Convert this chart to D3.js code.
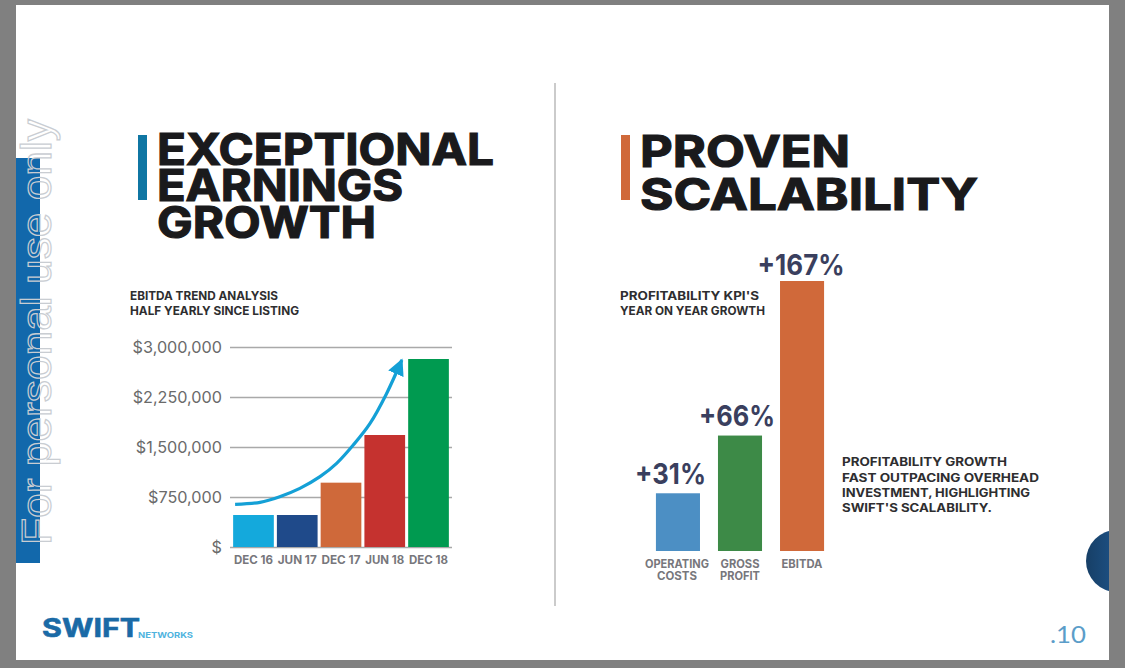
<!DOCTYPE html>
<html>
<head>
<meta charset="utf-8">
<script src="https://cdn.jsdelivr.net/npm/d3@7"></script>
<style>
    html, body { margin: 0; padding: 0; background: #808080; overflow: hidden; }
    svg { display: block; }
    text { font-family: Inter, "DejaVu Sans", sans-serif; }
    .title { font-size: 44px; font-weight: bold; fill: #1a1a1c; stroke: #1a1a1c; stroke-width: 1.2px; }
    .note { font-size: 11.5px; font-weight: bold; fill: #2e2e30; }
    .axis text { font-size: 16.2px; fill: #6a6a6a; }
    .axis line { stroke: #a9a9a9; stroke-width: 1.6px; }
    .axis .domain { display: none; }
    .xlabel { font-size: 11.5px; font-weight: bold; fill: #77777c; }
    .pct { font-size: 29px; font-weight: bold; fill: #3a3f5e; }
</style>
</head>
<body>
<div id="chart"></div>
<script>
const width = 1125;
const height = 668;

// EBITDA bars
const periods = ["DEC 16", "JUN 17", "DEC 17", "JUN 18", "DEC 18"];
const ebitda = [480000, 480000, 965000, 1680000, 2820000];
const ebitdaColors = ["#14a9dc", "#1f4a8a", "#cf693a", "#c5322f", "#009a50"];
const yTicks = [0, 750000, 1500000, 2250000, 3000000];
const yTickLabels = ["$", "$750,000", "$1,500,000", "$2,250,000", "$3,000,000"];

// trend arrow, as bar position / dollars
const trendBar = [-0.42, 0.15, 0.6, 1.06, 1.52, 1.9, 2.28, 2.66, 3.04, 3.39];
const trendValue = [640000, 670000, 755000, 880000, 1055000, 1255000, 1530000, 1850000, 2300000, 2805000];

// KPI bars (bar heights as drawn, they are not to scale with the labels)
const kpis = [["OPERATING", "COSTS"], ["GROSS", "PROFIT"], ["EBITDA"]];
const kpiHeights = [31, 62, 145];
const kpiLabels = ["+31%", "+66%", "+167%"];
const kpiColors = ["#4c8fc4", "#3d8a47", "#d0693a"];

const svg = d3.select("#chart")
    .append("svg")
    .attr("width", width)
    .attr("height", height);

const defs = svg.append("defs");

const grad = defs.append("linearGradient").attr("id", "dotGrad");
grad.append("stop").attr("offset", "0%").attr("stop-color", "#173f66");
grad.append("stop").attr("offset", "100%").attr("stop-color", "#2265a8");

defs.append("clipPath").attr("id", "pageClip")
    .append("rect")
    .attr("x", 16).attr("y", 5)
    .attr("width", 1093).attr("height", 655);

defs.append("marker")
    .attr("id", "arrowHead")
    .attr("viewBox", "0 0 10 10")
    .attr("refX", 9).attr("refY", 5)
    .attr("markerWidth", 5.2).attr("markerHeight", 5.6)
    .attr("orient", "auto")
    .append("path")
    .attr("d", "M0,0L10,5L0,10Z")
    .attr("fill", "#14a0d6");

// PAGE
svg.append("rect")
    .attr("x", 16).attr("y", 5)
    .attr("width", 1093).attr("height", 655)
    .attr("fill", "#fff");

svg.append("rect")
    .attr("x", 16).attr("y", 158)
    .attr("width", 24).attr("height", 405)
    .attr("fill", "#1268ab");

svg.append("circle")
    .attr("cx", 1117).attr("cy", 561).attr("r", 31)
    .attr("fill", "url(#dotGrad)")
    .attr("clip-path", "url(#pageClip)");

svg.append("line")
    .attr("x1", 555).attr("x2", 555)
    .attr("y1", 83).attr("y2", 606)
    .attr("stroke", "#a8a8a8")
    .attr("stroke-width", 1.2);

svg.append("text")
    .attr("transform", "translate(51,545) rotate(-90)")
    .attr("textLength", 426)
    .attr("lengthAdjust", "spacingAndGlyphs")
    .style("font-size", "42px")
    .style("font-family", "Liberation Sans")
    .attr("fill", "none")
    .attr("stroke", "#c9cdd2")
    .attr("stroke-width", 1.2)
    .text("For personal use only");

// HEADINGS
function fitText(cls, x, y, len, str) {
    return svg.append("text")
        .attr("class", cls)
        .attr("x", x)
        .attr("y", y)
        .attr("textLength", len)
        .attr("lengthAdjust", "spacingAndGlyphs")
        .text(str);
}

svg.append("rect").attr("x", 138).attr("y", 135).attr("width", 9).attr("height", 65).attr("fill", "#0f76a3");
svg.append("rect").attr("x", 621).attr("y", 135).attr("width", 9).attr("height", 65).attr("fill", "#d0693a");

fitText("title", 157, 165, 337, "EXCEPTIONAL");
fitText("title", 157, 201, 246, "EARNINGS");
fitText("title", 157, 238, 219, "GROWTH");
fitText("title", 640, 167, 210, "PROVEN");
fitText("title", 640, 210, 338, "SCALABILITY");

fitText("note", 130, 300, 148, "EBITDA TREND ANALYSIS");
fitText("note", 130, 315, 169, "HALF YEARLY SINCE LISTING");
fitText("note", 620, 300, 139, "PROFITABILITY KPI'S");
fitText("note", 620, 315, 145, "YEAR ON YEAR GROWTH");

fitText("note", 842, 466, 165, "PROFITABILITY GROWTH");
fitText("note", 842, 482, 197, "FAST OUTPACING OVERHEAD");
fitText("note", 842, 497, 188, "INVESTMENT, HIGHLIGHTING");
fitText("note", 842, 512, 150, "SWIFT'S SCALABILITY.");

////////////////////////////////////////////////////////
// EBITDA CHART
////////////////////////////////////////////////////////

const x1 = d3.scaleBand()
    .domain(periods)
    .range([231.6, 450.4])
    .paddingInner(0.07)
    .paddingOuter(0.035);

const y1 = d3.scaleLinear()
    .domain([0, 3000000])
    .range([547, 347]);

svg.append("g")
    .attr("class", "axis")
    .attr("transform", "translate(452,0)")
    .call(
        d3.axisLeft(y1)
            .tickValues(yTicks)
            .tickSize(222)
            .tickPadding(8)
            .tickFormat((d, i) => yTickLabels[i])
    );

svg.selectAll(".bar1")
    .data(periods)
    .enter()
    .append("rect")
    .attr("class", "bar1")
    .attr("x", d => x1(d))
    .attr("y", (d, i) => y1(ebitda[i]))
    .attr("width", x1.bandwidth())
    .attr("height", (d, i) => y1(0) - y1(ebitda[i]))
    .attr("fill", (d, i) => ebitdaColors[i]);

svg.selectAll(".xlabel1")
    .data(periods)
    .enter()
    .append("text")
    .attr("class", "xlabel")
    .attr("x", d => x1(d) + x1.bandwidth() / 2)
    .attr("y", 564)
    .attr("text-anchor", "middle")
    .attr("textLength", 39)
    .attr("lengthAdjust", "spacingAndGlyphs")
    .text(d => d);

// TREND ARROW
const barPos = d3.scaleLinear()
    .domain([0, periods.length - 1])
    .range([x1(periods[0]) + x1.bandwidth() / 2, x1(periods[4]) + x1.bandwidth() / 2]);

const trendLine = d3.line()
    .x(d => barPos(d))
    .y((d, i) => y1(trendValue[i]))
    .curve(d3.curveCatmullRom);

svg.append("path")
    .datum(trendBar)
    .attr("d", trendLine)
    .attr("fill", "none")
    .attr("stroke", "#14a0d6")
    .attr("stroke-width", 3.2)
    .attr("marker-end", "url(#arrowHead)");

////////////////////////////////////////////////////////
// KPI CHART
////////////////////////////////////////////////////////

const x2 = d3.scaleBand()
    .domain(kpiLabels)
    .range([646, 834])
    .paddingInner(0.29)
    .paddingOuter(0.16);

const y2 = d3.scaleLinear()
    .domain([0, 145])
    .range([551, 281]);

svg.selectAll(".bar2")
    .data(kpiLabels)
    .enter()
    .append("rect")
    .attr("class", "bar2")
    .attr("x", d => x2(d))
    .attr("y", (d, i) => y2(kpiHeights[i]))
    .attr("width", x2.bandwidth())
    .attr("height", (d, i) => y2(0) - y2(kpiHeights[i]))
    .attr("fill", (d, i) => kpiColors[i]);

svg.selectAll(".pct")
    .data(kpiLabels)
    .enter()
    .append("text")
    .attr("class", "pct")
    .attr("x", d => x2(d) + x2.bandwidth() / 2)
    .attr("dx", (d, i) => [-7.5, -3, -1][i])
    .attr("y", (d, i) => y2(kpiHeights[i]) - [9, 10, 6][i])
    .attr("text-anchor", "middle")
    .attr("textLength", (d, i) => [71, 76, 87][i])
    .attr("lengthAdjust", "spacingAndGlyphs")
    .text(d => d);

kpis.forEach((lines, k) => {
    lines.forEach((line, i) => {
        svg.append("text")
            .attr("class", "xlabel")
            .attr("x", x2(kpiLabels[k]) + x2.bandwidth() / 2 - (k === 0 ? 1 : 0))
            .attr("y", 568 + i * 12)
            .attr("text-anchor", "middle")
            .attr("textLength", [[64, 40], [39, 40], [41]][k][i])
            .attr("lengthAdjust", "spacingAndGlyphs")
            .text(line);
    });
});

// FOOTER
svg.append("text")
    .attr("x", 42).attr("y", 637)
    .attr("textLength", 98)
    .attr("lengthAdjust", "spacingAndGlyphs")
    .style("font-size", "25px")
    .style("font-weight", "bold")
    .attr("fill", "#1a6aa6")
    .attr("stroke", "#1a6aa6")
    .attr("stroke-width", 0.6)
    .text("SWIFT");

svg.append("text")
    .attr("x", 138).attr("y", 638)
    .attr("textLength", 55)
    .attr("lengthAdjust", "spacingAndGlyphs")
    .style("font-size", "8px")
    .style("font-weight", "bold")
    .attr("fill", "#4fb3de")
    .text("NETWORKS");

svg.append("text")
    .attr("x", 1050).attr("y", 643)
    .attr("textLength", 36)
    .attr("lengthAdjust", "spacingAndGlyphs")
    .style("font-size", "24px")
    .style("font-family", "Lato")
    .attr("fill", "#5b9dc9")
    .text(".10");
</script>
</body>
</html>
